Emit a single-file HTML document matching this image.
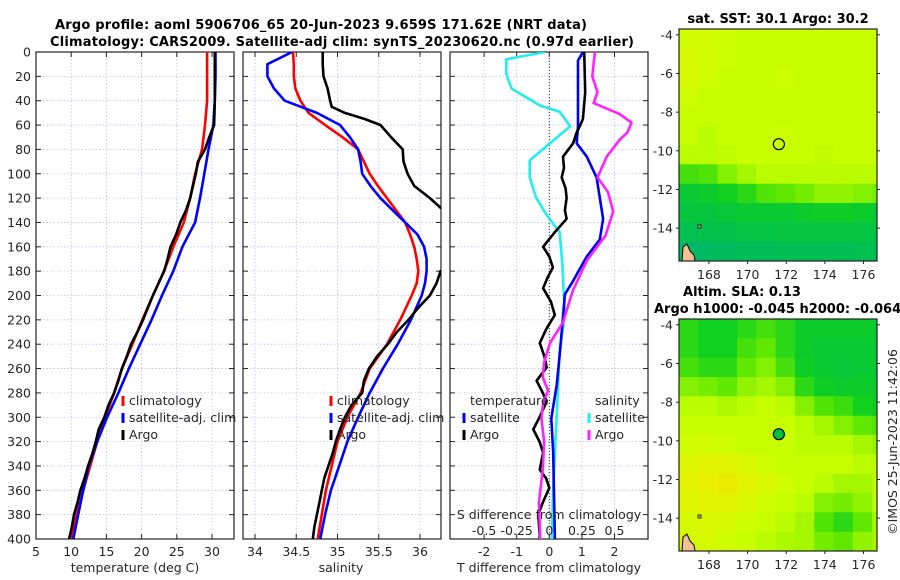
<!DOCTYPE html>
<html><head><meta charset="utf-8"><style>
html,body{margin:0;padding:0;background:#fff;}
svg{display:block;font-family:"DejaVu Sans","Liberation Sans",sans-serif;}
.tk{font-size:12.5px;fill:#262626;}
.ttl{font-size:13px;font-weight:bold;fill:#000;}
</style></head><body>
<svg id="fig" width="900" height="580" viewBox="0 0 900 580">
<defs>
<clipPath id="c1"><rect x="36" y="52" width="198" height="487"/></clipPath>
<clipPath id="c2"><rect x="243" y="52" width="198" height="487"/></clipPath>
<clipPath id="c3"><rect x="450" y="52" width="198" height="487"/></clipPath>
<clipPath id="m1"><rect x="679" y="29" width="198" height="232"/></clipPath>
<clipPath id="m2"><rect x="679" y="319" width="198" height="232"/></clipPath>
</defs>
<text class="ttl" x="55" y="29" textLength="532">Argo profile: aoml 5906706_65 20-Jun-2023 9.659S 171.62E (NRT data)</text>
<text class="ttl" x="50" y="46" textLength="584">Climatology: CARS2009. Satellite-adj clim: synTS_20230620.nc (0.97d earlier)</text>
<g id="layer"></g>
</svg>
<script>
// ---------- data ----------
const depthTicks = [0,20,40,60,80,100,120,140,160,180,200,220,240,260,280,300,320,340,360,380,400];
const tempTicks = [5,10,15,20,25,30];
const salTicks = [34,34.5,35,35.5,36];
const salTickLabels = ["34","34.5","35","35.5","36"];
const dTTicks = [-2,-1,0,1,2];
const dSTicks = [-0.5,-0.25,0,0.25,0.5];
const dSTickLabels = ["-0.5","-0.25","0","0.25","0.5"];

const tDepth = [0,20,40,60,80,100,120,140,160,180,200,220,240,260,280,300,320,340,360,380,400];
const tClim = [29.3,29.3,29.3,29.0,28.6,27.6,26.9,26.0,24.5,23.2,21.6,20.1,18.7,17.2,16.1,14.8,13.7,12.7,11.7,10.8,10.0];
const tSat = [30.5,30.5,30.4,30.2,29.5,28.9,28.3,27.6,25.8,24.5,22.9,21.4,19.8,18.2,16.7,15.1,13.7,12.5,11.7,11.0,10.3];
const tArgoDepth = [0,20,40,60,70,80,90,100,110,120,130,140,150,160,170,180,190,200,210,220,230,240,250,260,270,280,290,300,310,320,330,340,350,360,370,380,390,400];
const tArgo = [30.4,30.4,30.4,30.3,29.6,29.0,28.0,27.7,27.3,26.9,26.3,25.5,24.9,24.1,23.7,23.2,22.4,21.6,20.9,20.2,19.4,18.5,17.9,17.2,16.7,16.1,15.3,14.7,13.9,13.5,13.0,12.4,11.9,11.3,10.9,10.4,10.1,9.7];

const sDepth = [0,10,20,30,40,50,60,70,80,90,100,110,120,130,140,150,160,170,180,190,200,220,240,260,280,300,320,340,360,380,400];
const sClim = [34.46,34.47,34.47,34.49,34.55,34.65,34.85,35.06,35.25,35.32,35.39,35.49,35.60,35.71,35.82,35.88,35.93,35.96,35.98,35.96,35.90,35.76,35.60,35.39,35.28,35.12,35.00,34.93,34.86,34.81,34.76];
const sSat = [34.45,34.15,34.15,34.23,34.36,34.75,35.03,35.15,35.25,35.28,35.30,35.40,35.52,35.67,35.82,35.97,36.05,36.08,36.08,36.06,36.02,35.89,35.73,35.55,35.39,35.25,35.12,35.02,34.92,34.85,34.79];
const sArgoDepth = [0,10,20,30,40,45,50,55,60,70,80,90,100,110,120,128,135,175,180,190,200,210,220,230,240,250,260,270,280,290,300,310,320,330,340,350,360,370,380,390,400];
const sArgo = [34.82,34.82,34.83,34.88,34.91,34.93,35.09,35.33,35.52,35.65,35.79,35.80,35.85,35.93,36.12,36.25,36.45,36.45,36.25,36.2,36.12,35.98,35.86,35.72,35.61,35.48,35.38,35.32,35.30,35.17,35.09,35.03,34.98,34.94,34.89,34.84,34.81,34.78,34.75,34.72,34.70];

const dSSatDepth = [0,6,18,30,44,49,61,75,89,103,120,134,148,174,216,245,301,358,397,400];
const dSSat = [-0.03,-0.33,-0.33,-0.29,-0.07,0.08,0.16,0.005,-0.15,-0.15,-0.1,-0.02,0.08,0.1,0.12,0.08,0.056,0.03,0.02,0.02];
const dTSatDepth = [0,7,61,75,86,103,137,154,168,188,199,245,273,301,329,397,400];
const dTSat = [1.03,0.88,0.88,0.84,1.15,1.45,1.65,1.55,1.15,0.73,0.48,0.33,0.23,0.06,0.12,0.17,0.17];
const dTArgoDepth = [0,33,55,60,66,75,86,95,103,112,120,130,137,148,160,168,177,185,194,205,216,228,239,250,259,270,280,287,300,310,320,329,343,350,358,370,380,397,400];
const dTArgo = [1.07,1.1,1.03,0.95,0.84,0.73,0.42,0.45,0.38,0.5,0.53,0.48,0.53,0.17,-0.19,0.0,0.11,-0.05,-0.19,0.05,0.17,-0.1,-0.29,-0.15,-0.08,-0.39,-0.2,-0.08,-0.3,-0.49,-0.3,-0.19,-0.29,-0.1,0.0,-0.2,-0.34,-0.29,-0.3];
const dSArgoDepth = [0,20,33,42,51,58,66,72,86,103,115,131,151,171,196,222,239,255,267,278,290,301,320,343,370,397,400];
const dSArgo = [0.35,0.33,0.37,0.34,0.54,0.63,0.60,0.54,0.44,0.37,0.45,0.49,0.43,0.29,0.18,0.105,0.005,-0.04,-0.05,-0.01,-0.05,-0.06,-0.04,-0.05,-0.08,-0.07,-0.07];

const lonTicks = [168,170,172,174,176];
const latTicks = [-4,-6,-8,-10,-12,-14];
const gridLats = [-4.2,-5.2,-6.2,-7.2,-8.2,-9.2,-10.2,-11.2,-12.2,-13.2,-14.2,-15.2];
const gridLons = [166.95,167.95,168.95,169.95,170.95,171.95,172.95,173.95,174.95,175.95,176.95];
const sstGrid = [
[0.82,0.83,0.82,0.80,0.80,0.80,0.80,0.80,0.80,0.80,0.80],
[0.84,0.83,0.81,0.80,0.80,0.80,0.80,0.80,0.80,0.80,0.80],
[0.84,0.82,0.80,0.80,0.80,0.81,0.80,0.80,0.80,0.80,0.80],
[0.82,0.80,0.80,0.80,0.80,0.80,0.80,0.80,0.80,0.80,0.80],
[0.80,0.80,0.80,0.80,0.80,0.80,0.80,0.80,0.80,0.80,0.80],
[0.80,0.78,0.80,0.80,0.80,0.81,0.80,0.80,0.80,0.80,0.80],
[0.78,0.78,0.79,0.80,0.80,0.80,0.80,0.79,0.80,0.80,0.80],
[0.60,0.62,0.70,0.75,0.78,0.78,0.78,0.78,0.78,0.78,0.78],
[0.42,0.45,0.50,0.55,0.62,0.65,0.68,0.72,0.72,0.70,0.68],
[0.38,0.38,0.40,0.42,0.42,0.42,0.45,0.48,0.48,0.45,0.42],
[0.30,0.32,0.33,0.35,0.35,0.36,0.36,0.36,0.36,0.36,0.35],
[0.20,0.22,0.24,0.26,0.26,0.28,0.28,0.28,0.28,0.30,0.30]];
const slaGrid = [
[0.55,0.50,0.50,0.55,0.60,0.55,0.45,0.45,0.45,0.45,0.42],
[0.55,0.50,0.50,0.60,0.65,0.55,0.45,0.42,0.42,0.42,0.42],
[0.60,0.55,0.55,0.65,0.70,0.60,0.48,0.42,0.40,0.42,0.42],
[0.70,0.68,0.65,0.72,0.75,0.70,0.55,0.48,0.45,0.45,0.45],
[0.78,0.78,0.76,0.78,0.80,0.78,0.70,0.62,0.58,0.50,0.48],
[0.80,0.80,0.80,0.80,0.80,0.80,0.78,0.75,0.70,0.65,0.62],
[0.82,0.83,0.82,0.80,0.80,0.80,0.78,0.78,0.78,0.75,0.72],
[0.86,0.88,0.88,0.85,0.82,0.80,0.80,0.80,0.80,0.78,0.78],
[0.88,0.90,0.92,0.88,0.85,0.82,0.80,0.78,0.75,0.75,0.78],
[0.86,0.88,0.88,0.85,0.82,0.80,0.78,0.70,0.68,0.72,0.78],
[0.84,0.85,0.84,0.82,0.80,0.78,0.75,0.62,0.55,0.65,0.75],
[0.84,0.84,0.82,0.80,0.78,0.76,0.75,0.68,0.65,0.72,0.75]];
const argoLon = 171.62, argoLat = -9.659;

// ---------- helpers ----------
const NS = "http://www.w3.org/2000/svg";
const layer = document.getElementById("layer");
function mk(tag, attrs, parent){ const e=document.createElementNS(NS,tag); for(const k in attrs) e.setAttribute(k,attrs[k]); (parent||layer).appendChild(e); return e; }
const PT=52, PB=539;
const yD = d => PT + d*(PB-PT)/400;
function lin(d0,d1,p0,p1){ return v => p0 + (v-d0)*(p1-p0)/(d1-d0); }
const xT = lin(5,30,36,212);
const xS = lin(34,36,255,420);
const xDT = lin(0,1,549.3,581.9);
const xDS = lin(0,0.25,549.3,581.9);

function panel(x0,name,xTickVals,xTickLbls,xf,showY){
  const g = mk("g",{});
  
  
  depthTicks.forEach(d=>{ mk("line",{x1:x0,x2:x0+198,y1:yD(d),y2:yD(d),stroke:"#b8c0e8","stroke-width":0.8,"stroke-dasharray":"1.5,2"},g); });
  xTickVals.forEach(v=>{ const x=xf(v); mk("line",{x1:x,x2:x,y1:PT,y2:PB,stroke:"#b8c0e8","stroke-width":0.8,"stroke-dasharray":"1.5,2"},g); });
  depthTicks.forEach(d=>{ const y=yD(d);
    mk("line",{x1:x0,x2:x0+5,y1:y,y2:y,stroke:"#222","stroke-width":1},g);
    mk("line",{x1:x0+198,x2:x0+193,y1:y,y2:y,stroke:"#222","stroke-width":1},g);
    if(showY){ const t=mk("text",{x:x0-5,y:y+4.5,"text-anchor":"end",class:"tk"},g); t.textContent=d;
      
       }
  });
  xTickVals.forEach((v,i)=>{ const x=xf(v);
    mk("line",{x1:x,x2:x,y1:PB,y2:PB-5,stroke:"#222","stroke-width":1},g);
    mk("line",{x1:x,x2:x,y1:PT,y2:PT+5,stroke:"#222","stroke-width":1},g);
    const t=mk("text",{x:x,y:PB+17,"text-anchor":"middle",class:"tk"},g); t.textContent=xTickLbls[i];
    
    
  });
  mk("rect",{x:x0,y:PT,width:198,height:PB-PT,fill:"none",stroke:"#222","stroke-width":1.2},g);
  return g;
}
function series(depths, vals, xf, color, clip, name, w){
  const pts = vals.map((v,i)=> xf(v).toFixed(1)+","+yD(depths[i]).toFixed(1)).join(" ");
  const p = mk("polyline",{points:pts,fill:"none",stroke:color,"stroke-width":w||2.6,"stroke-linejoin":"round","clip-path":"url(#"+clip+")"});
  
  
}
function label(x,y,txt,name,anchor,cls){
  const t=mk("text",{x:x,y:y,"text-anchor":anchor||"start",class:cls||"tk"}); t.textContent=txt;
  
  
  return t;
}
function legendItem(x,y,color,txt,name){
  const l=mk("line",{x1:x,x2:x,y1:y-9,y2:y+1,stroke:color,"stroke-width":3});
  
  
  label(x+6,y,txt,name);
}

// ---------- panel 1: temperature ----------
panel(36,"temperature-panel",tempTicks,tempTicks.map(String),xT,true);
series(tDepth,tClim,xT,"#ff0000","c1","temperature-climatology-line");
series(tDepth,tSat,xT,"#0000ff","c1","temperature-satellite-line");
series(tArgoDepth,tArgo,xT,"#000000","c1","temperature-argo-line");
label(135,572,"temperature (deg C)","temperature-axis-title","middle");
legendItem(123,405,"#ff0000","climatology","legend-climatology");
legendItem(123,422,"#0000ff","satellite-adj. clim","legend-satellite-adj");
legendItem(123,439,"#000000","Argo","legend-argo");

// ---------- panel 2: salinity ----------
panel(243,"salinity-panel",salTicks,salTickLabels,xS,false);
series(sDepth,sClim,xS,"#ff0000","c2","salinity-climatology-line");
series(sDepth,sSat,xS,"#0000ff","c2","salinity-satellite-line");
series(sArgoDepth,sArgo,xS,"#000000","c2","salinity-argo-line");
label(341,572,"salinity","salinity-axis-title","middle");
legendItem(331,405,"#ff0000","climatology","legend-s-climatology");
legendItem(331,422,"#0000ff","satellite-adj. clim","legend-s-satellite-adj");
legendItem(331,439,"#000000","Argo","legend-s-argo");

// ---------- panel 3: differences ----------
panel(450,"difference-panel",dTTicks,dTTicks.map(String),xDT,false);
mk("line",{x1:xDT(0),x2:xDT(0),y1:PT,y2:PB,stroke:"#333","stroke-width":1,"stroke-dasharray":"1,2"});
series(dSSatDepth,dSSat,xDS,"#22eeee","c3","salinity-diff-satellite-line");
series(dTSatDepth,dTSat,xDT,"#0000ee","c3","temperature-diff-satellite-line");
series(dTArgoDepth,dTArgo,xDT,"#000000","c3","temperature-diff-argo-line");
series(dSArgoDepth,dSArgo,xDS,"#ff22ff","c3","salinity-diff-argo-line");
label(549,572,"T difference from climatology","t-difference-axis-title","middle");
label(549,519,"S difference from climatology","s-difference-axis-title","middle");
dSTicks.forEach((v,i)=>{ label(xDS(v),535,dSTickLabels[i],"s-diff-tick-label","middle"); });
label(470,405,"temperature","legend-temperature-header");
legendItem(464,422,"#0000ee","satellite","legend-t-satellite");
legendItem(464,439,"#000000","Argo","legend-t-argo");
label(595,405,"salinity","legend-salinity-header");
legendItem(589,422,"#22eeee","satellite","legend-s-satellite");
legendItem(589,439,"#ff22ff","Argo","legend-s-argo-diff");

// ---------- maps ----------
const cstops=[[0,[0,168,144]],[0.3,[0,192,80]],[0.5,[16,208,32]],[0.65,[96,232,0]],[0.8,[200,255,0]],[0.9,[232,240,0]],[1,[248,216,0]]];
function cmap(v){ for(let i=1;i<cstops.length;i++){ if(v<=cstops[i][0]){ const a=cstops[i-1],b=cstops[i],t=(v-a[0])/(b[0]-a[0]); return "rgb("+a[1].map((c,k)=>Math.round(c+(b[1][k]-c)*t)).join(",")+")"; } } return "rgb(248,216,0)"; }
function drawMap(y0,grid,clip,name,filled){
  const xL = lin(166.45,176.7,679,877);
  const yL = lin(-3.7,-15.7,y0,y0+232);
  const g=mk("g",{"clip-path":"url(#"+clip+")"});
  
  
  grid.forEach((row,r)=>row.forEach((v,c)=>{
    const x=xL(gridLons[c]-0.5), y=yL(gridLats[r]+0.5);
    const cell=mk("rect",{x:x.toFixed(1),y:y.toFixed(1),width:19.9,height:19.9,fill:cmap(v)},g);
    
    
  }));
  mk("path",{d:"M682 "+(y0+232)+" L683 "+(y0+218)+" L687 "+(y0+215)+" L690 "+(y0+222)+" L694 "+(y0+226)+" L695 "+(y0+232)+" Z",fill:"#f4c090",stroke:"#000","stroke-width":1},g);
  mk("rect",{x:698,y:y0+196,width:3,height:3,fill:"#f4c090",stroke:"#000","stroke-width":0.8},g);
  const mx=xL(argoLon), my=yL(argoLat);
  const c=mk("circle",{cx:mx,cy:my,r:5.5,fill:filled?"#00c040":"none",stroke:"#000","stroke-width":1.2});
  
  
  mk("rect",{x:679,y:y0,width:198,height:232,fill:"none",stroke:"#222","stroke-width":1.2});
  latTicks.forEach(la=>{ const y=yL(la);
    mk("line",{x1:679,x2:676,y1:y,y2:y,stroke:"#222"}); mk("line",{x1:877,x2:880,y1:y,y2:y,stroke:"#222"});
    label(673,y+4.5,String(la),"map-lat-tick-label","end"); });
  lonTicks.forEach(lo=>{ const x=xL(lo);
    mk("line",{x1:x,x2:x,y1:y0+232,y2:y0+235,stroke:"#222"});
    label(x,y0+250,String(lo),"map-lon-tick-label","middle"); });
}
drawMap(29,sstGrid,"m1","sst-map",false);
drawMap(319,slaGrid,"m2","sla-map",true);
label(778,23,"sat. SST: 30.1 Argo: 30.2","sst-map-title","middle","ttl");
label(742,296,"Altim. SLA: 0.13","sla-map-title","middle","ttl");
label(654,313,"Argo h1000: -0.045 h2000: -0.064","sla-map-subtitle","start","ttl");
const cr=label(0,0,"©IMOS 25-Jun-2023 11:42:06","imos-credit","middle");
cr.setAttribute("transform","translate(897,442) rotate(-90)");
</script>
</body></html>
